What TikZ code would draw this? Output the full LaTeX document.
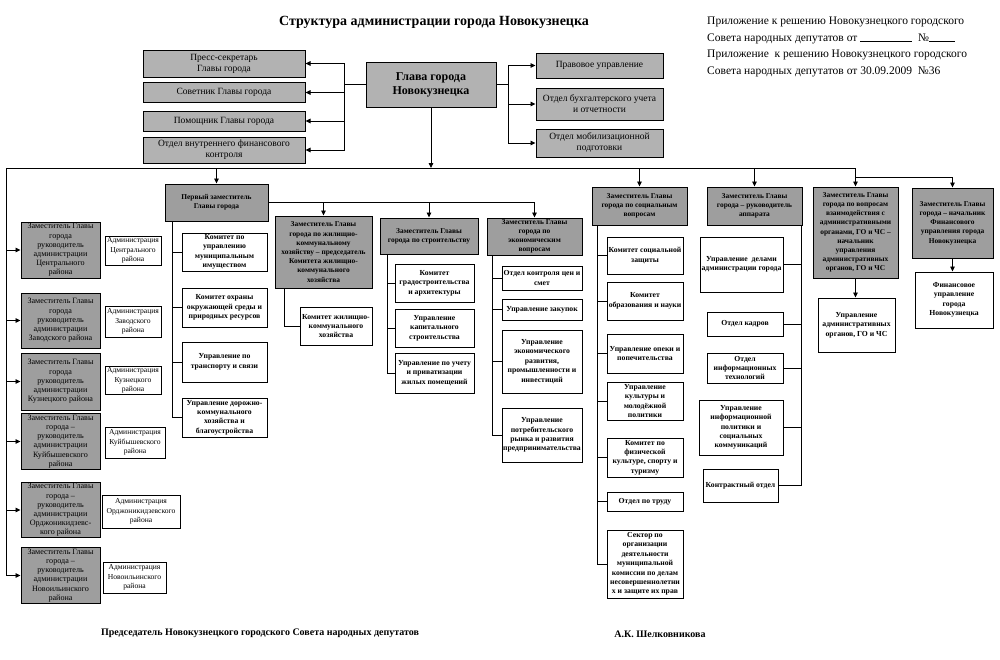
\documentclass[tikz,border=0pt]{standalone}
\usepackage{fontspec}
\setmainfont{Liberation Serif}
\usepackage{xcolor}
\usetikzlibrary{arrows.meta}

\definecolor{boxgray}{gray}{0.62}
\definecolor{topgray}{gray}{0.70}

\tikzset{
  line/.style={line width=0.9pt},
  arr/.style={line, -{Triangle[length=5pt,width=4.5pt]}},
  sz/.style 2 args={minimum width=#1pt, minimum height=#2pt},
  box/.style={draw, line width=1pt, align=center, inner sep=1pt},
  topbox/.style={box, fill=topgray, font=\fontsize{9.5}{11}\selectfont},
  depbox/.style={box, fill=boxgray, font=\fontsize{7.4}{9.2}\selectfont\bfseries},
  leftdep/.style={box, fill=boxgray, font=\fontsize{8.1}{9.2}\selectfont},
  subbox/.style={box, fill=white, font=\fontsize{7.7}{9.4}\selectfont\bfseries},
  admbox/.style={box, fill=white, font=\fontsize{7.6}{9.3}\selectfont},
}

\begin{document}
\begin{tikzpicture}[x=1pt, y=-1pt]
    \fill[white] (0,0) rectangle (1000,659);
    \useasboundingbox (0,0) rectangle (1000,659);

    % Header texts
    \node[font=\fontsize{14}{16}\selectfont\bfseries] (title) at (434,22) {Структура администрации города Новокузнецка};
    \node[anchor=north west, align=left, inner sep=0pt, font=\fontsize{11.5}{16.5}\selectfont] (appx) at (707,17)
      {Приложение к решению Новокузнецкого городского\\
       Совета народных депутатов от \rule{52pt}{0.4pt}\ \ №\rule{26pt}{0.4pt}\\
       Приложение\ \ к решению Новокузнецкого городского\\
       Совета народных депутатов от 30.09.2009\ \ №36};

    % Head of the city and his staff
    \node[topbox, sz={130}{45}, font=\fontsize{12}{14}\selectfont\bfseries] (glava) at (431,84.5) {Глава города\\Новокузнецка};
    \node[topbox, sz={162}{27}] (press) at (224,63.5) {Пресс-секретарь\\Главы города};
    \node[topbox, sz={162}{20}] (sovet) at (224,92.5) {Советник Главы города};
    \node[topbox, sz={162}{20}] (pomosh) at (224,121) {Помощник Главы города};
    \node[topbox, sz={162}{26}] (vnutr) at (224,150) {Отдел внутреннего финансового\\контроля};
    \node[topbox, sz={127}{25}] (pravo) at (599.5,65.5) {Правовое управление};
    \node[topbox, sz={127}{32}] (buh) at (599.5,104) {Отдел бухгалтерского учета\\и отчетности};
    \node[topbox, sz={127}{28}] (mob) at (599.5,143) {Отдел мобилизационной\\подготовки};

    \coordinate (lbus) at (344,84.5);
    \coordinate (rbus) at (508,84.5);
    \draw[line] (glava.west) -- (lbus);
    \draw[line] (glava.east) -- (rbus);
    \foreach \n in {press,sovet,pomosh,vnutr}
      \draw[arr] (lbus) |- (\n.east);
    \foreach \n in {pravo,buh,mob}
      \draw[arr] (rbus) |- (\n.west);

    % Main bus
    \coordinate (busL) at (6,168);
    \coordinate (busR) at (855.5,168);
    \draw[line] (busL) -- (busR);
    \draw[arr] (glava.south) -- (glava.south |- busL);

    % Deputies
    \node[depbox, sz={103}{37}] (perv) at (216.5,202.5) {Первый заместитель\\Главы города};
    \node[depbox, sz={97}{72}] (zhkh) at (323.5,252) {Заместитель Главы\\города по жилищно-\\коммунальному\\хозяйству -- председатель\\Комитета жилищно-\\коммунального\\хозяйства};
    \node[depbox, sz={98}{36}] (stroi) at (429,236) {Заместитель Главы\\города по строительству};
    \node[depbox, sz={95}{37}] (econ) at (534.5,236.5) {Заместитель Главы\\города по\\экономическим\\вопросам};
    \node[depbox, sz={95}{38}] (soc) at (639.5,206) {Заместитель Главы\\города по социальным\\вопросам};
    \node[depbox, sz={95}{38}] (appar) at (754.5,206) {Заместитель Главы\\города -- руководитель\\аппарата};
    \node[depbox, sz={85}{91}] (gochs) at (855.5,232.5) {Заместитель Главы\\города по вопросам\\взаимодействия с\\административными\\органами, ГО и ЧС --\\начальник\\управления\\административных\\органов, ГО и ЧС};
    \node[depbox, sz={81}{70}] (fin) at (952.5,223) {Заместитель Главы\\города -- начальник\\Финансового\\управления города\\Новокузнецка};

    \foreach \n in {perv,soc,appar,gochs}
      \draw[arr] (\n.north |- busL) -- (\n.north);
    \coordinate (finb) at (855.5,177);
    \draw[arr] (finb) -| (fin.north);
    \coordinate (pervR) at (534.5,202.5);
    \draw[line] (perv.east) -- (pervR);
    \foreach \n in {zhkh,stroi,econ}
      \draw[arr] (\n.north |- pervR) -- (\n.north);

    % District administrations
    \node[leftdep, sz={79}{56}] (d1) at (60.5,250) {Заместитель Главы\\города\\руководитель\\администрации\\Центрального\\района};
    \node[leftdep, sz={79}{55}] (d2) at (60.5,320.5) {Заместитель Главы\\города\\руководитель\\администрации\\Заводского района};
    \node[leftdep, sz={79}{57}] (d3) at (60.5,381.5) {Заместитель Главы\\города\\руководитель\\администрации\\Кузнецкого района};
    \node[leftdep, sz={79}{55}] (d4) at (60.5,441.5) {Заместитель Главы\\города --\\руководитель\\администрации\\Куйбышевского\\района};
    \node[leftdep, sz={79}{54}] (d5) at (60.5,510) {Заместитель Главы\\города --\\руководитель\\администрации\\Орджоникидзевс-\\кого района};
    \node[leftdep, sz={79}{55}] (d6) at (60.5,575.5) {Заместитель Главы\\города --\\руководитель\\администрации\\Новоильинского\\района};

    \node[admbox, sz={56}{29}] (a1) at (133,250.5) {Администрация\\Центрального\\района};
    \node[admbox, sz={56}{31}] (a2) at (133,321.5) {Администрация\\Заводского\\района};
    \node[admbox, sz={56}{27}] (a3) at (133,380.5) {Администрация\\Кузнецкого\\района};
    \node[admbox, sz={60}{31}] (a4) at (135,442.5) {Администрация\\Куйбышевского\\района};
    \node[admbox, sz={78}{33}] (a5) at (141,511.5) {Администрация\\Орджоникидзевского\\района};
    \node[admbox, sz={63}{31}] (a6) at (134.5,577.5) {Администрация\\Новоильинского\\района};

    \draw[line] (busL) -- (busL |- d6.west);
    \foreach \n in {d1,d2,d3,d4,d5,d6}
      \draw[arr] (\n.west -| busL) -- (\n.west);

    % First deputy
    \node[subbox, sz={85}{38}] (p1) at (224.5,252) {Комитет по\\управлению\\муниципальным\\имуществом};
    \node[subbox, sz={85}{39}] (p2) at (224.5,307.5) {Комитет охраны\\окружающей среды и\\природных ресурсов};
    \node[subbox, sz={85}{40}] (p3) at (224.5,362) {Управление по\\транспорту и связи};
    \node[subbox, sz={85}{39}] (p4) at (224.5,417.5) {Управление дорожно-\\коммунального\\хозяйства и\\благоустройства};
    \coordinate (pb) at (172,221);
    \draw[line] (pb) |- (p4.west);
    \foreach \n in {p1,p2,p3}
      \draw[line] (\n.west -| pb) -- (\n.west);

    % Housing deputy
    \node[subbox, sz={72}{38}] (zk1) at (336,326) {Комитет жилищно-\\коммунального\\хозяйства};
    \coordinate (zb) at (284,288);
    \draw[line] (zb) |- (zk1.west);

    % Construction deputy
    \node[subbox, sz={79}{38}] (s1) at (434.5,283) {Комитет\\градостроительства\\и архитектуры};
    \node[subbox, sz={79}{38}] (s2) at (434.5,328) {Управление\\капитального\\строительства};
    \node[subbox, sz={79}{40}] (s3) at (434.5,373) {Управление по учету\\и приватизации\\жилых помещений};
    \coordinate (sb) at (387,254);
    \draw[line] (sb) |- (s3.west);
    \foreach \n in {s1,s2}
      \draw[line] (\n.west -| sb) -- (\n.west);

    % Economy deputy
    \node[subbox, sz={80}{24}] (e1) at (542,278) {Отдел контроля цен и\\смет};
    \node[subbox, sz={80}{21}] (e2) at (542,309.5) {Управление закупок};
    \node[subbox, sz={80}{63}] (e3) at (542,361.5) {Управление\\экономического\\развития,\\промышленности и\\инвестиций};
    \node[subbox, sz={80}{54}] (e4) at (542,435) {Управление\\потребительского\\рынка и развития\\предпринимательства};
    \coordinate (eb) at (492,255);
    \draw[line] (eb) |- (e4.west);
    \foreach \n in {e1,e2,e3}
      \draw[line] (\n.west -| eb) -- (\n.west);

    % Social deputy
    \node[subbox, sz={76}{37}] (c1) at (645,255.5) {Комитет социальной\\защиты};
    \node[subbox, sz={76}{38}] (c2) at (645,301) {Комитет\\образования и науки};
    \node[subbox, sz={76}{39}] (c3) at (645,353.5) {Управление опеки и\\попечительства};
    \node[subbox, sz={76}{38}] (c4) at (645,401) {Управление\\культуры и\\молодёжной\\политики};
    \node[subbox, sz={76}{39}] (c5) at (645,457.5) {Комитет по\\физической\\культуре, спорту и\\туризму};
    \node[subbox, sz={76}{19}] (c6) at (645,501.5) {Отдел по труду};
    \node[subbox, sz={76}{68}] (c7) at (645,564) {Сектор по\\организации\\деятельности\\муниципальной\\комиссии по делам\\несовершеннолетни\\х и защите их прав};
    \coordinate (cb) at (597,225);
    \draw[line] (cb) |- (c7.west);
    \foreach \n in {c1,c2,c3,c4,c5,c6}
      \draw[line] (\n.west -| cb) -- (\n.west);

    % Staff deputy
    \node[subbox, sz={83}{55}] (u1) at (741.5,264.5) {Управление\ \ делами\\администрации города};
    \node[subbox, sz={76}{24}] (u2) at (745,324) {Отдел кадров};
    \node[subbox, sz={76}{30}] (u3) at (745,368) {Отдел\\информационных\\технологий};
    \node[subbox, sz={84}{55}] (u4) at (741,427.5) {Управление\\информационной\\политики и\\социальных\\коммуникаций};
    \node[subbox, sz={75}{33}] (u5) at (740.5,485.5) {Контрактный отдел};
    \coordinate (ub) at (801,225);
    \draw[line] (ub) |- (u5.east);
    \foreach \n in {u1,u2,u3,u4}
      \draw[line] (\n.east -| ub) -- (\n.east);

    % Civil defence and finance
    \node[subbox, sz={77}{54}] (g1) at (856.5,325) {Управление\\административных\\органов, ГО и ЧС};
    \node[subbox, sz={78}{56}] (f1) at (954,300) {Финансовое\\управление\\города\\Новокузнецка};
    \draw[arr] (gochs.south) -- (gochs.south |- g1.north);
    \draw[arr] (fin.south) -- (fin.south |- f1.north);

    % Signatures
    \node[font=\fontsize{10}{12}\selectfont\bfseries] (pred) at (260,633) {Председатель Новокузнецкого городского Совета народных депутатов};
    \node[font=\fontsize{10}{12}\selectfont\bfseries] (sign) at (660,634) {А.К. Шелковникова};
\end{tikzpicture}
\end{document}
